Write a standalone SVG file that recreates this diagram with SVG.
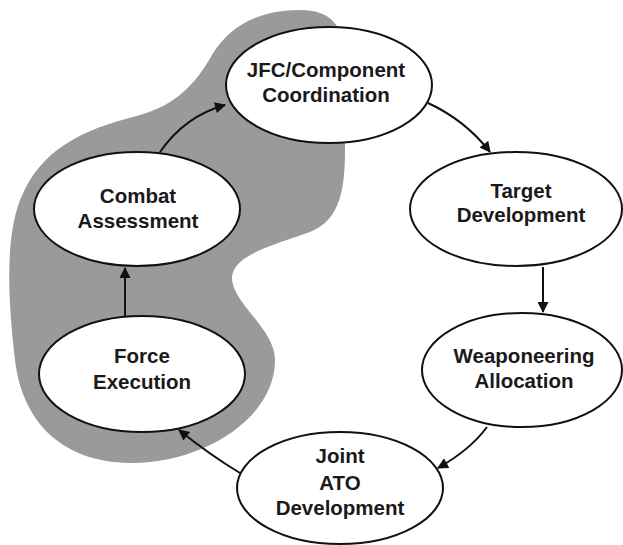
<svg xmlns="http://www.w3.org/2000/svg" width="623" height="545" viewBox="0 0 623 545">
<style>
.node ellipse{fill:#fff;stroke:#111;stroke-width:2}
.node text{font-family:"Liberation Sans",Arial,sans-serif;font-weight:bold;font-size:20.5px;fill:#1a1a1a;text-anchor:middle}
.conn path{fill:none;stroke:#111;stroke-width:2;marker-end:url(#ah)}
</style>
<defs>
<marker id="ah" viewBox="0 0 10 10" refX="9" refY="5" markerWidth="13" markerHeight="11" orient="auto" markerUnits="userSpaceOnUse">
<path d="M0,0 L10,5 L0,10 Z" fill="#111"/>
</marker>
</defs>
<rect width="623" height="545" fill="#fff"/>
<path id="shade" d="M300,10 C260,10 230,25 212,55 C195,85 175,105 140,115 C80,130 40,150 20,200 C5,240 8,300 15,360 C22,420 60,462 130,463 C200,464 275,420 275,360 C275,330 235,305 232,280 C230,255 275,245 310,232 C340,220 345,190 345,150 L345,60 C345,25 330,10 300,10 Z" fill="#9a9a9a"/>
<g class="conn">
<path d="M160,152 Q185,116 225,105"/>
<path d="M428,103 Q465,120 490,152"/>
<path d="M543,267 L543,312"/>
<path d="M487,427 Q470,450 438,468"/>
<path d="M240,473 Q210,455 179,430"/>
<path d="M125,316 L125,268"/>
</g>
<g id="jfc" class="node"><ellipse cx="329" cy="85" rx="103" ry="58"/><text x="326" y="77">JFC/Component</text><text x="326" y="102">Coordination</text></g>
<g id="target" class="node"><ellipse cx="516" cy="209" rx="106" ry="57"/><text x="521" y="198">Target</text><text x="521" y="222">Development</text></g>
<g id="weapon" class="node"><ellipse cx="522" cy="370" rx="100" ry="57"/><text x="524" y="363">Weaponeering</text><text x="524" y="388">Allocation</text></g>
<g id="jato" class="node"><ellipse cx="340" cy="488" rx="103" ry="56"/><text x="340" y="463">Joint</text><text x="340" y="490">ATO</text><text x="340" y="515">Development</text></g>
<g id="force" class="node"><ellipse cx="142" cy="374" rx="103" ry="58"/><text x="142" y="363">Force</text><text x="142" y="389">Execution</text></g>
<g id="combat" class="node"><ellipse cx="137" cy="209" rx="103" ry="57"/><text x="138" y="203">Combat</text><text x="138" y="228">Assessment</text></g>
</svg>
